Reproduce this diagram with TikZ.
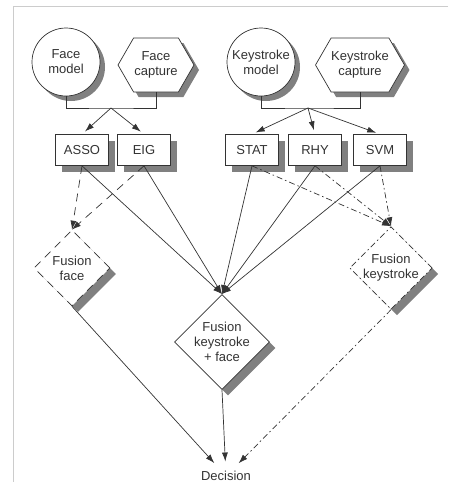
\documentclass[tikz,border=0pt]{standalone}
\usepackage{fontspec}
\setmainfont{Liberation Sans}
\usetikzlibrary{shapes.geometric,shapes.symbols,shadows,arrows.meta}

\tikzset{
  boxshadow/.style={drop shadow={shadow xshift=6pt, shadow yshift=-6pt, fill=gray, opacity=1}},
  smallshadow/.style={drop shadow={shadow xshift=5pt, shadow yshift=-5pt, fill=gray, opacity=1}},
  model/.style={circle, draw, fill=white, minimum size=68pt, inner sep=0pt, align=center, smallshadow},
  capture/.style={signal, signal to=east and west, signal pointer angle=120, draw, fill=white, minimum width=76pt, minimum height=54pt, inner sep=0pt, align=center, smallshadow},
  algo/.style={rectangle, draw, fill=white, minimum width=53pt, minimum height=31pt, boxshadow},
  fusion/.style={diamond, draw, fill=white, aspect=1, minimum size=76pt, inner sep=0pt, align=center, boxshadow},
  facefuse/.style={dash pattern=on 8pt off 6pt},
  keyfuse/.style={dash pattern=on 6pt off 3pt on 1.5pt off 3pt}
}

\begin{document}
\begin{tikzpicture}[x=1pt, y=-1pt, line width=0.7pt, color=black!80, >={Latex[length=9pt,width=6pt]}, font=\fontsize{13}{15}\selectfont]
  \useasboundingbox (0,0) rectangle (448,482);
  \draw[black!20] (448,6) -- (13,6) -- (13,482);

  \node (fmodel) at (66, 62) [model] {Face\\model};
  \node (fcap) at (156, 65) [capture] {Face\\capture};
  \node (kmodel) at (261, 62) [model] {Keystroke\\model};
  \node (kcap) at (360, 65) [capture] {Keystroke\\capture};
  \coordinate (fbar) at (111, 108);
  \coordinate (kbar) at (308, 108);

  \node (asso) at (82, 150) [algo] {ASSO};
  \node (eig) at (144, 150) [algo] {EIG};
  \node (stat) at (252, 150) [algo] {STAT};
  \node (rhy) at (315, 150) [algo] {RHY};
  \node (svm) at (380, 150) [algo] {SVM};

  \node (fface) at (72, 268) [fusion, facefuse] {Fusion\\face};
  \node (fboth) at (222, 342) [fusion] {Fusion\\keystroke\\+ face};
  \node (fkey) at (391, 268) [fusion, keyfuse] {Fusion\\keystroke};
  \node (dec) at (226, 476) {Decision};

  \draw (fmodel.south) |- (fbar) -| (fcap.south);
  \draw (kmodel.south) |- (kbar) -| (kcap.south);
  \draw[->, shorten >=4pt] (fbar) -- (asso.north);
  \draw[->, shorten >=4pt] (fbar) -- (eig.north);
  \draw[->, shorten >=4pt] (kbar) -- (stat.north);
  \draw[->, shorten >=4pt] (kbar) -- (rhy.north);
  \draw[->, shorten >=4pt] (kbar) -- (svm.north);

  \draw[->, facefuse] (asso.south) -- (fface.north);
  \draw[->, facefuse] (eig.south) -- (fface.north);
  \draw[->] (asso.south) -- (fboth.north);
  \draw[->] (eig.south) -- (fboth.north);
  \draw[->] (stat.south) -- (fboth.north);
  \draw[->] (rhy.south) -- (fboth.north);
  \draw[->] (svm.south) -- (fboth.north);
  \draw[->, keyfuse] (stat.south) -- (fkey.north);
  \draw[->, keyfuse] (rhy.south) -- (fkey.north);
  \draw[->, keyfuse] (svm.south) -- (fkey.north);

  \draw[->, shorten >=6pt] (fface.south) -- (dec);
  \draw[->, shorten >=6pt] (fboth.south) -- (dec);
  \draw[->, keyfuse, shorten >=6pt] (fkey.south) -- (dec);
\end{tikzpicture}
\end{document}
